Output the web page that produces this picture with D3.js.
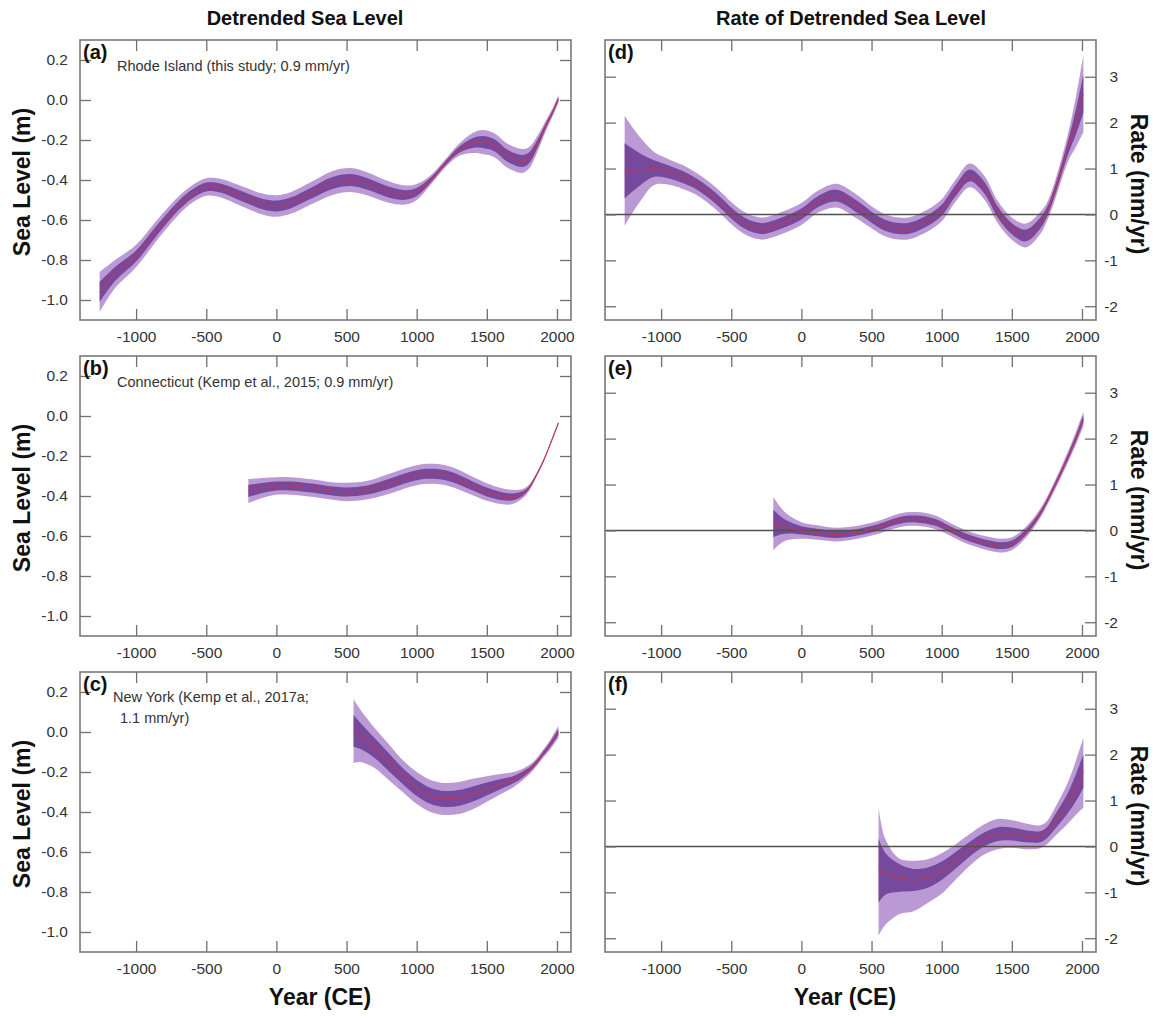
<!DOCTYPE html>
<html>
<head>
<meta charset="utf-8">
<script src="https://cdn.jsdelivr.net/npm/d3@7"></script>
<style>
  body { margin: 0; background: #fff; }
  svg text { font-family: "Liberation Sans", Arial, Helvetica, sans-serif; }
</style>
</head>
<body>
<svg id="chart" width="1160" height="1016"></svg>
<script>
// ---- Tick labels ----
const yearTicks  = [-1000, -500, 0, 500, 1000, 1500, 2000];
const levelTicks = [0.2, 0.0, -0.2, -0.4, -0.6, -0.8, -1.0];
const rateTicks  = [3, 2, 1, 0, -1, -2];

// ---- Rhode Island: detrended sea level (m) ----
const riYears = [-1260, -1150, -1000, -850, -700, -600, -500, -400, -250, -100, 0, 100, 250, 400, 530, 650,
                 800, 920, 1000, 1100, 1200, 1300, 1400, 1470, 1550, 1650, 1750, 1800, 1860, 1920, 1970, 2010];
const riLevel = [-0.96, -0.87, -0.78, -0.65, -0.53, -0.47, -0.435, -0.44, -0.48, -0.52, -0.53, -0.515, -0.465, -0.415, -0.40, -0.42,
                 -0.46, -0.475, -0.46, -0.40, -0.32, -0.25, -0.215, -0.21, -0.225, -0.28, -0.305, -0.29, -0.22, -0.13, -0.06, 0.005];
const riLevelInner = [0.05, 0.035, 0.028, 0.025, 0.023, 0.022, 0.022, 0.023, 0.025, 0.026, 0.027, 0.027, 0.028, 0.03, 0.03, 0.029,
                      0.027, 0.024, 0.02, 0.012, 0.01, 0.015, 0.025, 0.03, 0.03, 0.03, 0.03, 0.027, 0.02, 0.013, 0.01, 0.01];
const riLevelOuter = [0.1, 0.07, 0.056, 0.05, 0.046, 0.044, 0.044, 0.046, 0.05, 0.052, 0.054, 0.054, 0.056, 0.06, 0.06, 0.058,
                      0.054, 0.048, 0.04, 0.024, 0.02, 0.03, 0.05, 0.06, 0.06, 0.06, 0.06, 0.054, 0.04, 0.026, 0.02, 0.02];

// ---- Rhode Island: rate of detrended sea level (mm/yr) ----
const riRateYears = [-1260, -1150, -1050, -950, -850, -750, -650, -550, -500, -400, -280, -150, 0, 120, 250, 400, 500,
                     600, 750, 900, 1000, 1100, 1200, 1300, 1400, 1500, 1600, 1700, 1750, 1800, 1900, 1960, 2010];
const riRate = [0.95, 0.98, 1.0, 0.93, 0.82, 0.67, 0.45, 0.18, 0.03, -0.2, -0.31, -0.2, 0.01, 0.28, 0.41, 0.16, -0.06,
                -0.24, -0.31, -0.13, 0.09, 0.52, 0.85, 0.6, 0.05, -0.31, -0.46, -0.2, 0.05, 0.45, 1.45, 2.05, 2.63];
const riRateInner = [0.6, 0.35, 0.18, 0.14, 0.13, 0.12, 0.12, 0.12, 0.12, 0.12, 0.12, 0.12, 0.12, 0.12, 0.13, 0.13, 0.12,
                     0.12, 0.12, 0.12, 0.12, 0.12, 0.13, 0.13, 0.12, 0.12, 0.13, 0.12, 0.1, 0.1, 0.15, 0.28, 0.42];
const riRateOuter = [1.2, 0.7, 0.36, 0.28, 0.26, 0.24, 0.24, 0.24, 0.24, 0.24, 0.24, 0.24, 0.24, 0.24, 0.26, 0.26, 0.24,
                     0.24, 0.24, 0.24, 0.24, 0.24, 0.26, 0.26, 0.24, 0.24, 0.26, 0.24, 0.2, 0.2, 0.3, 0.56, 0.84];

// ---- Connecticut: detrended sea level (m) ----
const ctYears = [-200, -100, 0, 100, 250, 400, 500, 650, 800, 950, 1050, 1150, 1250, 1400, 1500, 1600,
                 1680, 1750, 1800, 1850, 1900, 1950, 2010];
const ctLevel = [-0.375, -0.36, -0.35, -0.35, -0.36, -0.375, -0.38, -0.37, -0.34, -0.305, -0.29, -0.29, -0.305, -0.35, -0.38, -0.40,
                 -0.405, -0.39, -0.36, -0.30, -0.23, -0.145, -0.035];
const ctLevelInner = [0.03, 0.025, 0.022, 0.022, 0.022, 0.022, 0.023, 0.023, 0.025, 0.025, 0.025, 0.025, 0.025, 0.023, 0.022, 0.02,
                      0.018, 0.012, 0.008, 0.005, 0.005, 0.004, 0.004];
const ctLevelOuter = [0.06, 0.05, 0.044, 0.044, 0.044, 0.044, 0.046, 0.046, 0.05, 0.05, 0.05, 0.05, 0.05, 0.046, 0.044, 0.04,
                      0.036, 0.024, 0.016, 0.01, 0.009, 0.008, 0.008];

// ---- Connecticut: rate (mm/yr) ----
const ctRateYears = [-200, -150, -100, 0, 100, 250, 400, 550, 700, 820, 950, 1050, 1150, 1250, 1350, 1420,
                     1500, 1600, 1700, 1800, 1900, 1960, 2010];
const ctRate = [0.15, 0.11, 0.07, 0.0, -0.04, -0.09, -0.04, 0.07, 0.22, 0.25, 0.18, 0.04, -0.11, -0.22, -0.3, -0.33,
                -0.29, -0.04, 0.36, 0.94, 1.6, 2.03, 2.43];
const ctRateInner = [0.3, 0.2, 0.14, 0.09, 0.08, 0.075, 0.07, 0.07, 0.075, 0.075, 0.075, 0.07, 0.07, 0.07, 0.075, 0.075,
                     0.07, 0.06, 0.05, 0.05, 0.06, 0.07, 0.08];
const ctRateOuter = [0.58, 0.4, 0.28, 0.18, 0.16, 0.15, 0.14, 0.14, 0.15, 0.15, 0.15, 0.14, 0.14, 0.14, 0.15, 0.15,
                     0.14, 0.12, 0.1, 0.1, 0.12, 0.14, 0.16];

// ---- New York: detrended sea level (m) ----
const nyYears = [550, 600, 700, 800, 900, 1000, 1100, 1200, 1300, 1400, 1500, 1600, 1700, 1800, 1850, 1900, 1950, 2010];
const nyLevel = [0.005, -0.02, -0.08, -0.15, -0.22, -0.28, -0.32, -0.335, -0.33, -0.31, -0.285, -0.26, -0.235, -0.19,
                 -0.155, -0.11, -0.065, 0.0];
const nyLevelInner = [0.08, 0.065, 0.05, 0.045, 0.04, 0.04, 0.04, 0.04, 0.04, 0.038, 0.032, 0.025, 0.018, 0.012, 0.01, 0.01, 0.012, 0.015];
const nyLevelOuter = [0.16, 0.13, 0.1, 0.09, 0.08, 0.08, 0.08, 0.08, 0.08, 0.076, 0.064, 0.05, 0.036, 0.024, 0.02, 0.02, 0.024, 0.03];

// ---- New York: rate (mm/yr) ----
const nyRateYears = [550, 600, 700, 800, 900, 1000, 1100, 1200, 1300, 1400, 1500, 1600, 1700, 1750, 1800, 1900, 1960, 2010];
const nyRate = [-0.53, -0.6, -0.69, -0.73, -0.68, -0.53, -0.3, -0.06, 0.15, 0.27, 0.27, 0.22, 0.21, 0.3, 0.5, 0.95, 1.3, 1.64];
const nyRateInner = [0.7, 0.45, 0.3, 0.24, 0.22, 0.2, 0.18, 0.16, 0.15, 0.15, 0.14, 0.13, 0.12, 0.12, 0.15, 0.22, 0.3, 0.36];
const nyRateOuterHi = [1.38, 0.75, 0.42, 0.42, 0.4, 0.38, 0.35, 0.33, 0.33, 0.33, 0.3, 0.28, 0.25, 0.25, 0.3, 0.45, 0.6, 0.73];
const nyRateOuterLo = [1.41, 1.1, 0.78, 0.68, 0.55, 0.5, 0.42, 0.36, 0.33, 0.33, 0.3, 0.28, 0.25, 0.25, 0.3, 0.45, 0.6, 0.79];

// ---- Layout ----
const colLeft = [80, 605];
const rowTop = [40, 356, 672];
const panelW = 491, panelH = 280, tickLen = 11;
const yearDomain = [-1400, 2100];
const levelDomain = [-1.1, 0.3];
const rateDomain = [-2.3, 3.8];

const colors = { outer: "#ba99d4", inner: "#77499c", mean: "#c8354f", frame: "#707070", text: "#333" };

const panels = [
  { col: 0, row: 0, kind: "level", tag: "(a)", note: ["Rhode Island (this study; 0.9 mm/yr)"],
    years: riYears, mean: riLevel, inner: riLevelInner, outerHi: riLevelOuter, outerLo: riLevelOuter },
  { col: 0, row: 1, kind: "level", tag: "(b)", note: ["Connecticut (Kemp et al., 2015; 0.9 mm/yr)"],
    years: ctYears, mean: ctLevel, inner: ctLevelInner, outerHi: ctLevelOuter, outerLo: ctLevelOuter },
  { col: 0, row: 2, kind: "level", tag: "(c)", note: ["New York (Kemp et al., 2017a;", "1.1 mm/yr)"],
    years: nyYears, mean: nyLevel, inner: nyLevelInner, outerHi: nyLevelOuter, outerLo: nyLevelOuter },
  { col: 1, row: 0, kind: "rate", tag: "(d)", note: [],
    years: riRateYears, mean: riRate, inner: riRateInner, outerHi: riRateOuter, outerLo: riRateOuter },
  { col: 1, row: 1, kind: "rate", tag: "(e)", note: [],
    years: ctRateYears, mean: ctRate, inner: ctRateInner, outerHi: ctRateOuter, outerLo: ctRateOuter },
  { col: 1, row: 2, kind: "rate", tag: "(f)", note: [],
    years: nyRateYears, mean: nyRate, inner: nyRateInner, outerHi: nyRateOuterHi, outerLo: nyRateOuterLo }
];

const svg = d3.select("#chart");
const curve = d3.curveCatmullRom.alpha(0.5);

panels.forEach((p, i) => {
  const x0 = colLeft[p.col], y0 = rowTop[p.row];
  const x = d3.scaleLinear().domain(yearDomain).range([x0, x0 + panelW]);
  const y = d3.scaleLinear().domain(p.kind === "level" ? levelDomain : rateDomain).range([y0 + panelH, y0]);
  const rows = p.years.map((yr, k) => ({
    yr, m: p.mean[k], s1: p.inner[k], hi2: p.outerHi[k], lo2: p.outerLo[k]
  }));

  const clipId = "clip" + i;
  svg.append("clipPath").attr("id", clipId)
    .append("rect").attr("x", x0).attr("y", y0).attr("width", panelW).attr("height", panelH);
  const g = svg.append("g").attr("clip-path", `url(#${clipId})`);

  // uncertainty envelopes
  g.append("path").datum(rows)
    .attr("fill", colors.outer)
    .attr("d", d3.area().curve(curve).x(d => x(d.yr)).y0(d => y(d.m - d.lo2)).y1(d => y(d.m + d.hi2)));
  g.append("path").datum(rows)
    .attr("fill", colors.inner)
    .attr("d", d3.area().curve(curve).x(d => x(d.yr)).y0(d => y(d.m - d.s1)).y1(d => y(d.m + d.s1)));

  // zero reference for rate panels
  if (p.kind === "rate") {
    g.append("line")
      .attr("x1", x0).attr("x2", x0 + panelW)
      .attr("y1", y(0)).attr("y2", y(0))
      .attr("stroke", "#505050").attr("stroke-width", 1.4);
  }

  // central estimate
  g.append("path").datum(rows)
    .attr("fill", "none").attr("stroke", colors.mean).attr("stroke-width", 1.1).attr("stroke-opacity", 0.85)
    .attr("d", d3.line().curve(curve).x(d => x(d.yr)).y(d => y(d.m)));

  // axes with inward ticks on all four sides
  const yTicks = p.kind === "level" ? levelTicks : rateTicks;
  const styleAxis = sel => {
    sel.select(".domain").remove();
    sel.selectAll(".tick line").attr("stroke", colors.frame).attr("stroke-width", 1.3);
    sel.selectAll(".tick text").attr("fill", colors.text).attr("font-size", 15.5);
  };
  svg.append("g").attr("transform", `translate(0,${y0 + panelH})`)
    .call(d3.axisBottom(x).tickValues(yearTicks).tickSize(-tickLen).tickPadding(11).tickFormat(d => String(d)))
    .call(styleAxis);
  svg.append("g").attr("transform", `translate(0,${y0})`)
    .call(d3.axisTop(x).tickValues(yearTicks).tickSize(-tickLen).tickFormat(""))
    .call(styleAxis);

  if (p.kind === "level") {
    svg.append("g").attr("transform", `translate(${x0},0)`)
      .call(d3.axisLeft(y).tickValues(yTicks).tickSize(-tickLen).tickPadding(12).tickFormat(d => d.toFixed(1)))
      .call(styleAxis);
    svg.append("g").attr("transform", `translate(${x0 + panelW},0)`)
      .call(d3.axisRight(y).tickValues(yTicks).tickSize(-tickLen).tickFormat(""))
      .call(styleAxis);
  } else {
    svg.append("g").attr("transform", `translate(${x0},0)`)
      .call(d3.axisLeft(y).tickValues(yTicks).tickSize(-tickLen).tickFormat(""))
      .call(styleAxis);
    svg.append("g").attr("transform", `translate(${x0 + panelW},0)`)
      .call(d3.axisRight(y).tickValues(yTicks).tickSize(-tickLen).tickFormat(d => String(d)))
      .call(styleAxis)
      .call(a => a.selectAll(".tick text").attr("text-anchor", "end").attr("x", 22));
  }

  // frame
  svg.append("rect")
    .attr("x", x0).attr("y", y0).attr("width", panelW).attr("height", panelH)
    .attr("fill", "none").attr("stroke", colors.frame).attr("stroke-width", 1.5);

  // panel tag and site note
  svg.append("text").attr("x", x0 + 3).attr("y", y0 + 19)
    .attr("font-size", 20).attr("font-weight", "bold").attr("fill", "#111").text(p.tag);
  p.note.forEach((line, k) => {
    svg.append("text")
      .attr("x", x0 + (p.note.length > 1 ? (k === 0 ? 33 : 40) : 37))
      .attr("y", y0 + (p.note.length > 1 ? 30 : 31) + k * 21)
      .attr("font-size", 14.5).attr("fill", colors.text).text(line);
  });

  // vertical axis titles
  const cy = y0 + panelH / 2;
  if (p.kind === "level") {
    svg.append("text").attr("transform", `translate(30,${cy + 2}) rotate(-90)`)
      .attr("text-anchor", "middle").attr("font-size", 23).attr("font-weight", "bold").attr("fill", "#111")
      .text("Sea Level (m)");
  } else {
    svg.append("text").attr("transform", `translate(1131,${cy + 4}) rotate(90)`)
      .attr("text-anchor", "middle").attr("font-size", 23).attr("font-weight", "bold").attr("fill", "#111")
      .text("Rate (mm/yr)");
  }
});

// column titles
svg.append("text").attr("x", 305).attr("y", 25).attr("text-anchor", "middle")
  .attr("font-size", 20).attr("font-weight", "bold").attr("fill", "#111").text("Detrended Sea Level");
svg.append("text").attr("x", 851).attr("y", 25).attr("text-anchor", "middle")
  .attr("font-size", 20).attr("font-weight", "bold").attr("fill", "#111").text("Rate of Detrended Sea Level");

// shared x-axis titles
[320, 845].forEach(cx => {
  svg.append("text").attr("x", cx).attr("y", 1005).attr("text-anchor", "middle")
    .attr("font-size", 23).attr("font-weight", "bold").attr("fill", "#111").text("Year (CE)");
});
</script>
</body>
</html>
